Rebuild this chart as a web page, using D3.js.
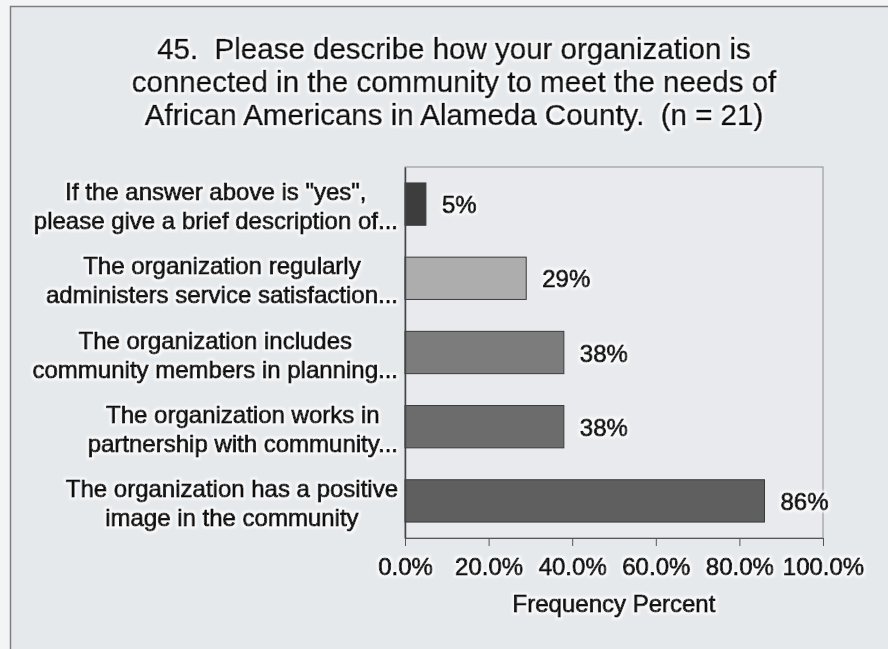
<!DOCTYPE html>
<html>
<head>
<meta charset="utf-8">
<script src="https://cdn.jsdelivr.net/npm/d3@7"></script>
<style>
  html, body { margin: 0; padding: 0; background: #f3f4f5; }
  svg { display: block; }
  text { font-family: "Liberation Sans", Arial, sans-serif; fill: #121212; white-space: pre; }
  .heavy { stroke: #121212; stroke-width: 1px; stroke-linejoin: round; }
  .title { stroke: #121212; stroke-width: 0.7px; stroke-linejoin: round; }
</style>
</head>
<body>
<svg id="chart" width="888" height="649"></svg>
<script>
// Survey item labels (already wrapped into display lines), top to bottom
const categories = [
  ["If the answer above is \"yes\",", "please give a brief description of..."],
  ["The organization regularly", "administers service satisfaction..."],
  ["The organization includes", "community members in planning..."],
  ["The organization works in", "partnership with community..."],
  ["The organization has a positive", "image in the community"]
];
// Frequency percent for each item
const values = [5, 29, 38, 38, 86];
const barColors = ["#3d3d3d", "#adadad", "#7c7c7c", "#6c6c6c", "#5f5f5f"];
const xTicks = [0, 20, 40, 60, 80, 100];
const titleLines = [
  "45.  Please describe how your organization is",
  "connected in the community to meet the needs of",
  "African Americans in Alameda County.  (n = 21)"
];
const xAxisTitle = "Frequency Percent";

const svg = d3.select("#chart");
const W = 888, H = 649;
const plot = { left: 405, right: 823, top: 167, bottom: 538 };

// Soft light halo behind text
const defs = svg.append("defs");
const halo = defs.append("filter").attr("id", "halo")
  .attr("x", "-5%").attr("y", "-20%").attr("width", "110%").attr("height", "140%");
halo.append("feMorphology").attr("in", "SourceAlpha").attr("operator", "dilate").attr("radius", 1.6).attr("result", "fat");
halo.append("feGaussianBlur").attr("in", "fat").attr("stdDeviation", 0.8).attr("result", "soft");
halo.append("feFlood").attr("flood-color", "#fbfbfc").attr("flood-opacity", 0.9);
halo.append("feComposite").attr("in2", "soft").attr("operator", "in").attr("result", "glow");
const merge = halo.append("feMerge");
merge.append("feMergeNode").attr("in", "glow");
merge.append("feMergeNode").attr("in", "SourceGraphic");

// Chart panel background and frame
svg.append("rect")
  .attr("x", 10.5).attr("y", 6.5)
  .attr("width", W + 10).attr("height", H)
  .attr("fill", "#e6e9ec")
  .attr("stroke", "#7d7f82").attr("stroke-width", 1.5);

// Title
const title = svg.append("text")
  .attr("class", "title")
  .attr("text-anchor", "middle")
  .attr("filter", "url(#halo)")
  .style("font-size", "29.5px");
titleLines.forEach((t, i) => {
  title.append("tspan")
    .attr("x", 454)
    .attr("y", 59 + i * 33)
    .text(t);
});

const x = d3.scaleLinear().domain([0, 100]).range([plot.left, plot.right]);
const y = d3.scaleBand()
  .domain(d3.range(categories.length))
  .range([plot.top, plot.bottom])
  .paddingInner(0.43)
  .paddingOuter(0.215);

// Plot area
svg.append("rect")
  .attr("x", plot.left).attr("y", plot.top)
  .attr("width", plot.right - plot.left).attr("height", plot.bottom - plot.top)
  .attr("fill", "#e8eaed")
  .attr("stroke", "#8a8c8f").attr("stroke-width", 1);

// Bars
svg.append("g").selectAll("rect")
  .data(values)
  .join("rect")
  .attr("x", x(0))
  .attr("y", (d, i) => y(i))
  .attr("width", d => x(d) - x(0))
  .attr("height", y.bandwidth())
  .attr("fill", (d, i) => barColors[i])
  .attr("stroke", "#3a3a3a")
  .attr("stroke-width", 1);

// Value labels
svg.append("g").attr("filter", "url(#halo)")
  .selectAll("text")
  .data(values)
  .join("text")
  .attr("class", "heavy")
  .attr("x", d => x(d) + 16)
  .attr("y", (d, i) => y(i) + y.bandwidth() / 2 + 9)
  .style("font-size", "24px")
  .text(d => d + "%");

// X axis
const xAxis = d3.axisBottom(x)
  .tickValues(xTicks)
  .tickFormat(d => d.toFixed(1) + "%")
  .tickSize(8)
  .tickPadding(12);
const gx = svg.append("g")
  .attr("transform", `translate(0,${plot.bottom})`)
  .call(xAxis);
gx.select(".domain").attr("stroke", "#555");
gx.selectAll(".tick line").attr("stroke", "#555");
gx.selectAll(".tick text")
  .attr("class", "heavy")
  .attr("filter", "url(#halo)")
  .attr("y", 37).attr("dy", null)
  .style("font-size", "24px")
  .style("font-family", "'Liberation Sans', Arial, sans-serif")
  .attr("fill", "#121212");

// Y axis line
const yAxis = d3.axisLeft(y).tickSize(0).tickFormat("");
const gy = svg.append("g")
  .attr("transform", `translate(${plot.left},0)`)
  .call(yAxis);
gy.select(".domain").attr("stroke", "#444").attr("stroke-width", 1.5);

// Category labels: each block centred on its own lines, right-aligned to the axis
const labelRight = 398;
const labelG = svg.append("g").attr("filter", "url(#halo)");
categories.forEach((lines, i) => {
  const cy = y(i) + y.bandwidth() / 2;
  const t = labelG.append("text")
    .attr("class", "heavy")
    .attr("text-anchor", "middle")
    .style("font-size", "24px");
  const spans = lines.map((ln, j) => t.append("tspan")
    .attr("y", cy - 4 + j * 29)
    .text(ln));
  const maxW = d3.max(spans, s => s.node().getComputedTextLength());
  spans.forEach(s => s.attr("x", labelRight - maxW / 2));
});

// X axis title
svg.append("text")
  .attr("class", "heavy")
  .attr("filter", "url(#halo)")
  .attr("x", (plot.left + plot.right) / 2)
  .attr("y", 612)
  .attr("text-anchor", "middle")
  .style("font-size", "24px")
  .text(xAxisTitle);
</script>
</body>
</html>
